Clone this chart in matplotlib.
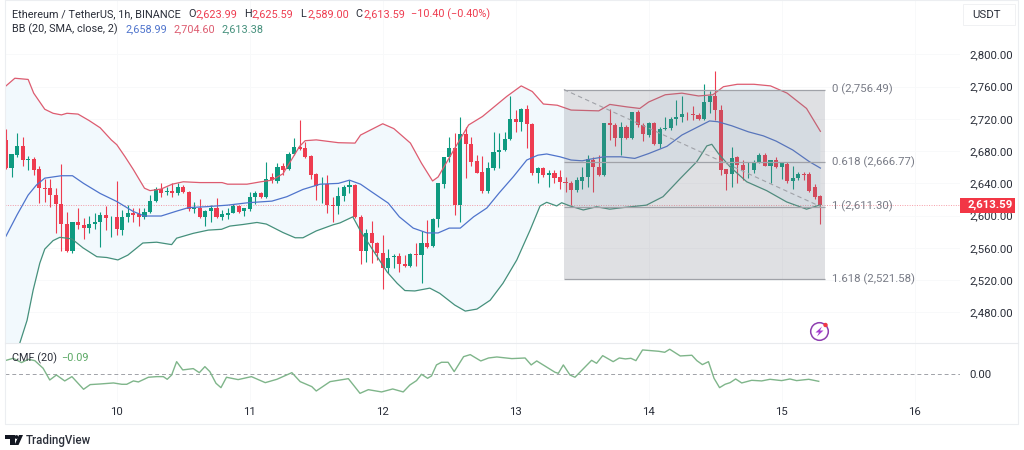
import numpy as np
import matplotlib
matplotlib.use("Agg")
import matplotlib.pyplot as plt
from matplotlib.patches import Circle, Polygon, Rectangle

plt.rcParams["font.family"] = ["Roboto", "DejaVu Sans"]

# hourly candles, first one at 9th 04:00, day ticks every 24 candles
opens = [
    2694, 2659, 2675, 2686, 2669, 2670, 2657.5, 2634, 2634, 2626,
    2614, 2590, 2556.5, 2592, 2588.5, 2584.5, 2589.5, 2592, 2601, 2598,
    2598.5, 2582, 2598.5, 2603, 2601.5, 2598.5, 2604.5, 2618, 2633.5, 2629,
    2631, 2628, 2636, 2629.5, 2608, 2609, 2598, 2606, 2609.5, 2598.5,
    2601, 2603.5, 2612, 2605.5, 2608, 2623.5, 2628.5, 2623.5, 2647.5, 2643.5,
    2661.5, 2658, 2676.5, 2685.5, 2683.5, 2674.5, 2651.5, 2637.5, 2639, 2613,
    2612, 2624.5, 2635, 2638, 2598, 2555.5, 2579, 2566.5, 2554, 2535.5,
    2548.5, 2550, 2539.5, 2537.5, 2552.5, 2551, 2566.5, 2562.5, 2595.5, 2639,
    2672.5, 2683.5, 2613, 2701.5, 2688.5, 2668, 2654, 2630.5, 2658.5, 2679.5,
    2681.5, 2694.5, 2720.5, 2716.5, 2732.5, 2713.5, 2653.5, 2659, 2650.5, 2653.5,
    2647.5, 2641.5, 2641, 2632, 2643.5, 2648.5, 2669, 2660.5, 2650.5, 2714.5,
    2712.5, 2696.5, 2710.5, 2696.5, 2729, 2712.5, 2700, 2715.5, 2689, 2708,
    2708.5, 2719.5, 2722, 2726.5, 2726, 2725, 2720, 2741.5, 2749, 2730.5,
    2657.5, 2652, 2673, 2663, 2656.5, 2656.5, 2667, 2675.5, 2662, 2668.5,
    2660, 2664.5, 2643, 2647, 2651.5, 2651.5, 2636, 2623.99,
]
highs = [
    2707, 2677, 2702, 2698, 2674, 2673, 2661, 2646, 2645, 2634,
    2664, 2604, 2592.5, 2609, 2596.5, 2600, 2603, 2605, 2612, 2599,
    2643.5, 2607, 2613, 2609, 2609, 2610, 2625.5, 2636, 2641, 2636,
    2640, 2641, 2638, 2631, 2617.5, 2620.5, 2607, 2613, 2621.5, 2607,
    2609, 2615, 2613, 2610, 2629.5, 2631, 2629.5, 2667, 2652.5, 2665,
    2665, 2679.5, 2696, 2718.5, 2691, 2675, 2653, 2648, 2650.5, 2622.5,
    2636, 2638, 2644, 2639, 2601, 2583, 2593.5, 2567.5, 2576, 2558,
    2552.5, 2554, 2551, 2553, 2566, 2581.5, 2594.5, 2596.5, 2641, 2673,
    2698, 2702, 2723, 2709.5, 2697, 2675, 2674, 2667, 2704, 2702,
    2704, 2748.5, 2731, 2733, 2737.5, 2714.5, 2660, 2660.5, 2656.5, 2656.5,
    2656.5, 2647.5, 2643.5, 2647.5, 2660, 2675, 2673, 2675, 2715.5, 2732,
    2714.5, 2716.5, 2712.5, 2729, 2731, 2714.5, 2716, 2716.5, 2709.5, 2722,
    2723, 2743.5, 2748.5, 2729, 2736.5, 2727, 2763, 2754.5, 2779.5, 2737.5,
    2658, 2685.5, 2673.5, 2669, 2667, 2669, 2677.5, 2677.5, 2669, 2673,
    2667, 2666, 2661, 2654, 2654, 2654.5, 2639, 2625.59,
]
lows = [
    2657.5, 2647.5, 2673, 2661.5, 2656, 2650.5, 2616, 2617, 2610.5, 2578,
    2556.5, 2555, 2553, 2584, 2570.5, 2578, 2584, 2561.5, 2582, 2574,
    2576, 2576, 2592.5, 2592.5, 2587, 2595.5, 2603, 2617, 2622.5, 2625.5,
    2623.5, 2625.5, 2628.5, 2606, 2603, 2596.5, 2587, 2592.5, 2597.5, 2594.5,
    2595.5, 2603, 2603.5, 2599.5, 2606, 2615, 2621.5, 2622, 2641, 2640,
    2650.5, 2656.5, 2675, 2681, 2672, 2645, 2619.5, 2616, 2603, 2592.5,
    2602, 2618.5, 2627.5, 2596.5, 2540, 2543, 2541, 2545, 2509.5, 2528.5,
    2534.5, 2530.5, 2536.5, 2536, 2538, 2516, 2559.5, 2560.5, 2585.5, 2634,
    2667, 2601, 2592.5, 2646.5, 2661, 2652.5, 2627.5, 2627.5, 2656.5, 2659,
    2680, 2694, 2704, 2705.5, 2684.5, 2650.5, 2640, 2647.5, 2635, 2640,
    2632.5, 2629.5, 2613, 2629.5, 2633, 2635, 2629.5, 2649, 2649, 2694,
    2686, 2675, 2694.5, 2695.5, 2710.5, 2692, 2698, 2687.5, 2684.5, 2706,
    2706, 2712.5, 2716.5, 2718.5, 2718.5, 2718.5, 2718.5, 2727, 2718.5, 2650.5,
    2632, 2636, 2640, 2644, 2647, 2652.5, 2665, 2661, 2640, 2658.5,
    2646, 2640, 2633, 2644, 2644, 2629.5, 2620.5, 2589,
]
closes = [
    2659, 2676, 2686, 2669, 2670, 2657, 2634, 2633, 2626, 2614,
    2590, 2556.5, 2592, 2588, 2584.5, 2589.5, 2592, 2600.5, 2596.5, 2598.5,
    2583, 2598.5, 2603, 2601, 2598.5, 2604.5, 2618, 2633.5, 2628.5, 2631,
    2628.5, 2635.5, 2629.5, 2608, 2610, 2598, 2605.5, 2610, 2598.5, 2601.5,
    2603.5, 2612, 2605, 2609, 2623.5, 2628.5, 2622.5, 2645, 2644, 2660,
    2656.5, 2676.5, 2685, 2682.5, 2673, 2650.5, 2637, 2638, 2613, 2612.5,
    2624.5, 2635, 2638, 2598, 2555.5, 2579, 2565.5, 2553, 2535.5, 2548,
    2550, 2539.5, 2537.5, 2552.5, 2551, 2566.5, 2560.5, 2595.5, 2640, 2672.5,
    2683.5, 2613, 2701.5, 2688.5, 2667, 2653.5, 2630.5, 2658.5, 2679.5, 2682,
    2694.5, 2720.5, 2716.5, 2732.5, 2713.5, 2653.5, 2659, 2650.5, 2653.5, 2646.5,
    2641.5, 2641, 2632, 2644, 2648.5, 2670, 2660, 2650.5, 2714.5, 2712.5,
    2696.5, 2710.5, 2696.5, 2729, 2712.5, 2701, 2714.5, 2689.5, 2707.5, 2708.5,
    2720, 2723, 2726, 2726, 2725, 2720, 2741.5, 2749, 2730.5, 2656.5,
    2652, 2672, 2663, 2656, 2657, 2667, 2675.5, 2662, 2668.5, 2660,
    2665, 2643, 2647, 2651.5, 2651, 2630.5, 2622.5, 2613.59,
]

upper_at = [0, 1.6, 4, 5, 7, 8.5, 10, 11, 13, 15, 17, 19, 20, 21.5, 23, 25, 26, 28, 30, 32, 35, 39, 40,
            43.5, 46, 48, 50, 53, 54, 56, 60, 63, 64, 68, 70, 73, 75, 77, 78, 81, 83.5, 86, 90.4, 93,
            95, 97, 99.5, 102, 107, 109, 112, 114.4, 116, 119, 122, 125, 127.6, 129.5, 132, 135, 138,
            141, 144.5, 147]
upper = [2761, 2770.5, 2769, 2752, 2732, 2727, 2725, 2727, 2726, 2718, 2709, 2694, 2688, 2673, 2657, 2634,
         2631, 2633, 2639, 2642, 2641, 2641, 2639, 2639, 2642, 2644, 2652, 2686, 2693, 2694, 2690.5, 2690,
         2700, 2714, 2708, 2690, 2665, 2643, 2648, 2683.5, 2712.5, 2723, 2748, 2761, 2754, 2738.5, 2737,
         2731, 2730, 2738, 2735, 2733, 2741, 2750, 2752, 2748.5, 2750, 2760, 2763, 2763, 2761, 2752, 2733,
         2704.6]
middle_at = [0, 2, 4, 5.5, 7, 10, 12, 14, 17, 20, 23, 25, 28, 31, 33, 36, 40, 43.7, 48, 50.7, 53.6, 56.7,
             60, 62, 64, 66, 69, 71, 73.5, 76, 78, 80, 82, 84.4, 86.8, 89, 91.6, 94, 96, 97.6, 100, 102,
             104, 105.4, 108, 111, 113.5, 116, 119.3, 122, 125, 127, 128.5, 131, 134, 136.7, 139, 142,
             145, 147]
middle = [2574.5, 2601, 2625.5, 2638, 2646.5, 2649.5, 2649.5, 2640, 2627.5, 2617.5, 2605, 2599.5, 2599.5,
          2606, 2610, 2611, 2613, 2616, 2618, 2623.5, 2632.5, 2639, 2640, 2644, 2639, 2629.5, 2615.5, 2598.5,
          2584.5, 2578.5, 2578.5, 2584.5, 2584.5, 2598.5, 2609.5, 2628, 2648.5, 2669, 2675, 2676.5, 2673,
          2669, 2668, 2670, 2673, 2673, 2671, 2677, 2686, 2700, 2710.5, 2717.5, 2716.5, 2711.5, 2704, 2699,
          2692.5, 2681.5, 2667, 2658.99]
lower_at = [0, 2.5, 3.8, 4.9, 6.1, 7, 8.5, 9.7, 11, 11.9, 13.9, 16.4, 18.2, 20.2, 22, 24.7, 27.2, 29.9, 30.8,
            33.8, 36.5, 38.9, 40.4, 42.8, 45.3, 47, 50, 52.2, 53.6, 56, 59, 60.3, 62.6, 63.9, 66.2, 68.8,
            70.6, 72, 73.8, 76.5, 78.3, 81, 82.9, 85, 87.4, 89.7, 92.2, 94.6, 96.4, 97.6, 99.4, 100.3,
            101.8, 104.2, 106.6, 109, 111.4, 115.6, 118.6, 121.7, 124.7, 126.5, 127.4, 128.6, 130.7, 133.7,
            137.3, 140.9, 144.5, 147]
lower = [2380, 2442, 2470, 2507.5, 2541, 2558.5, 2569, 2573, 2572, 2571, 2560, 2549, 2548, 2545, 2551, 2566,
         2567, 2564, 2572, 2578, 2582, 2583, 2587, 2589, 2591.5, 2589.5, 2579, 2572.5, 2572.5, 2581, 2588.5,
         2591, 2598.5, 2582, 2557.5, 2530, 2516, 2507, 2506.5, 2510, 2503.5, 2489, 2481.5, 2484, 2495, 2516,
         2545, 2582, 2612, 2616.5, 2612, 2616, 2612, 2607, 2611, 2608, 2610, 2613, 2623.5, 2646, 2667, 2686.5,
         2688.5, 2677, 2660.5, 2642, 2631, 2617, 2608, 2613.38]

# chaikin money flow pane
cmf_at = [-0.18, 1.3, 2.8, 4, 5.2, 6.7, 7.9, 9.1, 10.6, 11.9, 14, 15.2, 17, 19.4, 20.9, 21.8, 23, 23.9, 25.7,
          27.2, 28.4, 29.1, 29.9, 30.8, 31.9, 33.8, 34.9, 35.9, 36.8, 37.9, 38.8, 39.8, 41.9, 44.3, 46.8,
          48.9, 51.6, 53.1, 55.2, 56, 58.5, 61.8, 63.9, 65.4, 67.8, 69.8, 71.7, 72.9, 74.1, 75, 76.1, 76.8,
          77.7, 78.6, 79.8, 80.9, 82.6, 83.8, 85.7, 87.1, 88.6, 91.3, 93.7, 94.8, 95.8, 99.1, 99.7, 100.6,
          101.8, 102.7, 105.7, 106.6, 107.7, 109.6, 110.7, 111.8, 112.8, 113.7, 114.9, 117.8, 118.9, 119.8,
          121.7, 123.8, 124.7, 125.7, 126.8, 127.8, 128.8, 129.8, 130.7, 131.7, 132.8, 134.6, 136.4, 137.9,
          140, 141.5, 142.7, 144.9, 146.7]
cmf = [0.175, 0.205, 0.15, 0.192, 0.175, 0.077, -0.073, -0.009, -0.085, -0.03, -0.192, -0.132, -0.124, -0.111,
       -0.128, -0.128, -0.085, -0.098, -0.038, -0.03, -0.03, -0.064, -0.009, 0.162, 0.056, 0.073, 0.021, 0.098,
       0.034, -0.115, -0.171, -0.038, -0.068, -0.03, -0.107, -0.064, 0.021, -0.094, -0.158, -0.214, -0.094,
       -0.056, -0.244, -0.197, -0.226, -0.188, -0.226, -0.137, -0.081, 0, -0.051, -0.021, 0.12, 0.154, 0.154,
       0.034, 0.226, 0.252, 0.171, 0.209, 0.222, 0.201, 0.209, 0.12, 0.171, 0.026, 0.013, 0.12, -0.009, -0.038,
       0.179, 0.141, 0.239, 0.162, 0.209, 0.197, 0.205, 0.175, 0.312, 0.295, 0.282, 0.321, 0.235, 0.244, 0.175,
       0.124, 0.162, -0.051, -0.171, -0.128, -0.107, -0.06, -0.111, -0.077, -0.085, -0.064, -0.081, -0.06,
       -0.081, -0.064, -0.09]

price_ticks = [2480, 2520, 2560, 2600, 2640, 2680, 2720, 2760, 2800]
day_ticks = [20, 44, 68, 92, 116, 140, 164]
day_labels = ["10", "11", "12", "13", "14", "15", "16"]

fib_start = 100.7
fib_end = 147.8
fib_ratios = ["0", "0.618", "1", "1.618"]
fib_prices = [2756.49, 2666.77, 2611.30, 2521.58]
last_price = 2613.59

UP = "#0e9a80"
DOWN = "#ee3c50"
TEXT = "#2a2e39"
GRID = "#f8f9fa"
HEAD = 7.8

fig = plt.figure(figsize=(10.24, 4.5), dpi=100)


def pane(left, top, right, bottom):
    # pixel box to figure fractions
    return [left / 1024, 1 - bottom / 450, (right - left) / 1024, (bottom - top) / 450]


ax = fig.add_axes(pane(5, 0, 960, 343))
ax.set_xlim(-0.18, 172.2)
ax.set_ylim(2441.9, 2867.6)
for side in ax.spines.values():
    side.set_visible(False)
ax.yaxis.tick_right()
ax.set_yticks(price_ticks)
ax.set_yticklabels([f"{p:,.2f}" for p in price_ticks], fontsize=8.2, color=TEXT)
ax.tick_params(axis="y", length=0, pad=6.5)
ax.set_xticks(day_ticks)
ax.tick_params(axis="x", length=0, labelbottom=False)
ax.grid(True, color=GRID, linewidth=0.7)
ax.set_axisbelow(True)

# band fill first, everything else on top
ax.fill(upper_at + lower_at[::-1], upper + lower[::-1], color="#f2f9fd", zorder=1, linewidth=0)
ax.plot(upper_at, upper, color="#dd5c70", linewidth=0.9, zorder=3)
ax.plot(middle_at, middle, color="#4f74cc", linewidth=0.9, zorder=3)
ax.plot(lower_at, lower, color="#45907c", linewidth=0.9, zorder=3)

positions = np.arange(len(closes))
colors = [UP if c >= o else DOWN for o, c in zip(opens, closes)]
ax.vlines(positions, lows, highs, colors=colors, linewidth=0.8, zorder=2)
ax.bar(positions, np.abs(np.array(closes) - np.array(opens)), bottom=np.minimum(opens, closes),
       width=0.74, color=colors, linewidth=0, zorder=2.5)

ax.axhline(last_price, color=DOWN, linewidth=0.7, linestyle=(0, (1, 1.5)), alpha=0.5, zorder=2)

# fib box goes over the candles
ax.add_patch(Rectangle((fib_start, fib_prices[3]), fib_end - fib_start, fib_prices[0] - fib_prices[3],
                       facecolor="#787b86", alpha=0.23, linewidth=0, zorder=4))
ax.hlines(fib_prices, fib_start, fib_end, colors="#a0a2a8", linewidth=0.9, zorder=4)
ax.plot([fib_start, 147], [fib_prices[0], fib_prices[2]], color="#a0a2a8", linewidth=0.8,
        linestyle=(0, (4, 3)), zorder=4)
for ratio, price in zip(fib_ratios, fib_prices):
    ax.annotate(f"{ratio} ({price:,.2f})", (fib_end, price), xytext=(5, 0), textcoords="offset points",
                va="center", fontsize=8.2, color="#787b86")

ax_cmf = fig.add_axes(pane(5, 343, 960, 402))
ax_cmf.set_xlim(-0.18, 172.2)
ax_cmf.set_ylim(-0.355, 0.401)
for side in ax_cmf.spines.values():
    side.set_visible(False)
ax_cmf.yaxis.tick_right()
ax_cmf.set_yticks([0])
ax_cmf.set_yticklabels(["0.00"], fontsize=8.2, color=TEXT)
ax_cmf.tick_params(axis="y", length=0, pad=6.5)
ax_cmf.set_xticks(day_ticks)
ax_cmf.set_xticklabels(day_labels, fontsize=8.2, color=TEXT)
ax_cmf.tick_params(axis="x", length=0, pad=3.5)
ax_cmf.grid(True, axis="x", color=GRID, linewidth=0.7)
ax_cmf.set_axisbelow(True)
ax_cmf.patch.set_alpha(0)
ax_cmf.axhline(0, color="#a0a2a8", linewidth=0.7, linestyle=(0, (4, 3)))
ax_cmf.plot(cmf_at, cmf, color="#7fb58a", linewidth=1.0)

# chrome drawn in screen pixels
top = fig.add_axes([0, 0, 1, 1], zorder=10)
top.set_xlim(0, 1024)
top.set_ylim(450, 0)
top.axis("off")
top.patch.set_alpha(0)

top.plot([5, 5, 1018, 1018, 5], [0, 424, 424, 0, 0], color="#eceef1", linewidth=0.8)
top.plot([5, 1018], [343, 343], color="#e9ebee", linewidth=0.8)
top.add_patch(Rectangle((963, 4), 52, 21, facecolor="white", edgecolor="#f0f1f3", linewidth=0.7))
top.text(972, 14.5, "USDT", fontsize=8.2, color=TEXT, va="center")

top.text(12, 14, "Ethereum / TetherUS, 1h, BINANCE", fontsize=HEAD, color=TEXT, va="center")
for label_x, label, value in [(188, "O", "2,623.99"), (244, "H", "2,625.59"), (300, "L", "2,589.00"),
                              (355, "C", "2,613.59")]:
    top.text(label_x, 14, label, fontsize=HEAD, color=TEXT, va="center")
    top.text(label_x + 8, 14, value, fontsize=HEAD, color=DOWN, va="center")
top.text(411, 14, "\u221210.40 (\u22120.40%)", fontsize=HEAD, color=DOWN, va="center")

top.text(12, 29, "BB (20, SMA, close, 2)", fontsize=HEAD, color=TEXT, va="center")
top.text(125, 29, "2,658.99", fontsize=HEAD, color="#4f74cc", va="center")
top.text(173, 29, "2,704.60", fontsize=HEAD, color="#dd5c70", va="center")
top.text(222, 29, "2,613.38", fontsize=HEAD, color="#45907c", va="center")

top.text(12, 358, "CMF (20)", fontsize=HEAD, color=TEXT, va="center")
top.text(61, 358, "\u22120.09", fontsize=HEAD, color="#5aa864", va="center")

top.add_patch(Rectangle((960, 198), 55, 15, facecolor="#f23645", linewidth=0))
top.text(968, 205.3, f"{last_price:,.2f}", fontsize=8.2, color="white", va="center", fontweight="bold")

# lightning badge
top.add_patch(Circle((819.5, 331.5), 8.8, facecolor="white", edgecolor="#8e3fb0", linewidth=1.1))
top.add_patch(Polygon([(822, 326.5), (815.5, 332.5), (819, 332.5), (817, 336.5), (823.5, 330.5), (820, 330.5)],
                      facecolor="#a63fd0", linewidth=0))
top.add_patch(Circle((825.5, 325), 2.2, facecolor="#f23645", linewidth=0))

# logo
top.add_patch(Polygon([(5, 435), (15, 435), (15, 445), (10, 445), (10, 439), (5, 439)], facecolor="#131722",
                      linewidth=0))
top.add_patch(Circle((16.5, 437), 1.9, facecolor="#131722", linewidth=0))
top.add_patch(Polygon([(19, 435), (23, 435), (18.5, 445), (14.5, 445)], facecolor="#131722", linewidth=0))
top.text(26, 440.5, "TradingView", fontsize=8.3, color="#2a2e39", va="center", fontweight="medium")

fig.savefig("out.png", dpi=100)
